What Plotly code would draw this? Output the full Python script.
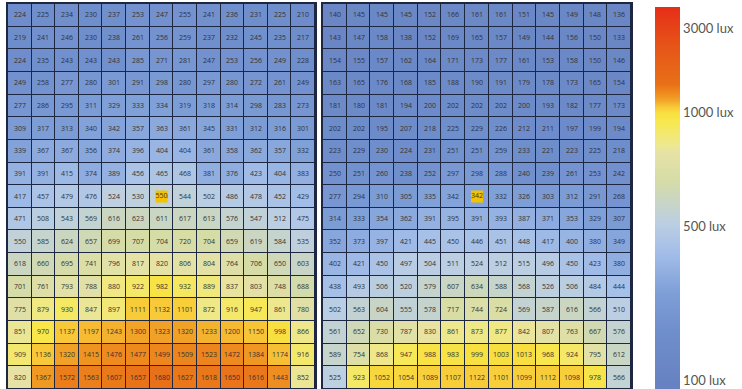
import numpy as np
import plotly.graph_objects as go

# measured illuminance, left room (rows top -> bottom)
left_lux = [
    [224, 225, 234, 230, 237, 253, 247, 255, 241, 236, 231, 225, 210],
    [219, 241, 246, 230, 238, 261, 256, 259, 237, 232, 245, 235, 217],
    [224, 235, 243, 243, 243, 285, 271, 281, 247, 253, 256, 249, 228],
    [249, 258, 277, 280, 301, 291, 298, 280, 297, 280, 272, 261, 249],
    [277, 286, 295, 311, 329, 333, 334, 319, 318, 314, 298, 283, 273],
    [309, 317, 313, 340, 342, 357, 363, 361, 345, 331, 312, 316, 301],
    [339, 367, 367, 356, 374, 396, 404, 404, 361, 358, 362, 357, 332],
    [391, 391, 415, 374, 389, 456, 465, 468, 381, 376, 423, 404, 383],
    [417, 457, 479, 476, 524, 530, 550, 544, 502, 486, 478, 452, 429],
    [471, 508, 543, 569, 616, 623, 611, 617, 613, 576, 547, 512, 475],
    [550, 585, 624, 657, 699, 707, 704, 720, 704, 659, 619, 584, 535],
    [618, 660, 695, 741, 796, 817, 820, 806, 804, 764, 706, 650, 603],
    [701, 761, 793, 788, 880, 922, 982, 932, 889, 837, 803, 748, 688],
    [775, 879, 930, 847, 897, 1111, 1132, 1101, 872, 916, 947, 861, 780],
    [851, 970, 1137, 1197, 1243, 1300, 1323, 1320, 1233, 1200, 1150, 998, 866],
    [909, 1136, 1320, 1415, 1476, 1477, 1499, 1509, 1523, 1472, 1384, 1174, 916],
    [820, 1367, 1572, 1563, 1607, 1657, 1680, 1627, 1618, 1650, 1616, 1443, 852],
]

# measured illuminance, right room
right_lux = [
    [140, 145, 145, 145, 152, 166, 161, 161, 151, 145, 149, 148, 136],
    [143, 147, 158, 138, 152, 169, 165, 157, 149, 144, 156, 150, 133],
    [154, 155, 157, 162, 164, 171, 173, 177, 161, 153, 158, 150, 146],
    [163, 165, 176, 168, 185, 188, 190, 191, 179, 178, 173, 165, 154],
    [181, 180, 181, 194, 200, 202, 202, 202, 200, 193, 182, 177, 173],
    [202, 202, 195, 207, 218, 225, 229, 226, 212, 211, 197, 199, 194],
    [223, 229, 230, 224, 231, 251, 251, 259, 233, 221, 223, 225, 218],
    [250, 251, 260, 238, 252, 297, 298, 288, 240, 239, 261, 253, 242],
    [277, 294, 310, 305, 335, 342, 342, 332, 326, 303, 312, 291, 268],
    [314, 333, 354, 362, 391, 395, 391, 393, 387, 371, 353, 329, 307],
    [352, 373, 397, 421, 445, 450, 446, 451, 448, 417, 400, 380, 349],
    [402, 421, 450, 497, 504, 511, 524, 512, 515, 496, 450, 423, 380],
    [438, 493, 506, 520, 579, 607, 634, 588, 568, 526, 506, 484, 444],
    [502, 563, 604, 555, 578, 717, 744, 724, 569, 587, 616, 566, 510],
    [561, 652, 730, 787, 830, 861, 873, 877, 842, 807, 763, 667, 576],
    [589, 754, 868, 947, 988, 983, 999, 1003, 1013, 968, 924, 795, 612],
    [525, 923, 1052, 1054, 1089, 1107, 1122, 1101, 1099, 1112, 1098, 978, 566],
]

# sensor cell (row, col) highlighted in each room
left_sensor = (8, 6)
right_sensor = (8, 6)

# non-linear lux scale of the colour bar
scale_lux = [100, 500, 1000, 3000, 3400]
scale_pos = [0.03, 0.43, 0.725, 0.945, 1.0]
tick_lux = [100, 500, 1000, 3000]
tick_text = ["100 lux", "500 lux", "1000 lux", "3000 lux"]

colorscale = [
    [0.0, "#6680c0"],
    [0.16, "#6f8ecc"],
    [0.26, "#7f9fd8"],
    [0.36, "#a2bde8"],
    [0.44, "#bccfe2"],
    [0.55, "#d6dca6"],
    [0.62, "#e6e2a6"],
    [0.645, "#eee88c"],
    [0.70, "#f8e850"],
    [0.725, "#f8e040"],
    [0.74, "#f8c838"],
    [0.758, "#f2a428"],
    [0.777, "#ee8a1e"],
    [0.80, "#e87018"],
    [0.90, "#e65418"],
    [1.0, "#e62e18"],
]

def to_pos(a):
    return np.interp(np.array(a, dtype=float), scale_lux, scale_pos)

grid = "#1d2742"
fig = go.Figure()

for i, (lux, sensor) in enumerate([(left_lux, left_sensor), (right_lux, right_sensor)]):
    xa = "x" if i == 0 else "x2"
    ya = "y" if i == 0 else "y2"
    fig.add_trace(go.Heatmap(
        z=to_pos(lux), text=lux, texttemplate="%{text}",
        textfont=dict(size=7, color="#333333", family="Open Sans"),
        colorscale=colorscale, zmin=0, zmax=1,
        xgap=1, ygap=1, xaxis=xa, yaxis=ya,
        showscale=(i == 0), hoverinfo="skip",
        colorbar=dict(
            tickvals=list(to_pos(tick_lux)), ticktext=tick_text,
            ticks="", outlinewidth=0, thickness=25,
            x=1.0385, xanchor="left", xpad=0,
            y=1 - 3 / 385, yanchor="top", len=1.0, ypad=0,
            ticklabeloverflow="allow",
            tickfont=dict(size=13, color="#555555", family="Lato"),
        ),
    ))
    r, c = sensor
    fig.add_trace(go.Scatter(
        x=[c], y=[r], mode="markers+text", text=[str(lux[r][c])],
        textposition="middle center",
        textfont=dict(size=7, color="#333333", family="Open Sans"),
        marker=dict(symbol="square", size=12, color="#f5c200"),
        xaxis=xa, yaxis=ya, showlegend=False, hoverinfo="skip",
    ))

axis_common = dict(showticklabels=False, showgrid=False, zeroline=False, ticks="",
                   showline=True, mirror=True, linewidth=2, linecolor=grid,
                   range=[-0.5, 12.5])
yaxis_common = dict(showticklabels=False, showgrid=False, zeroline=False, ticks="",
                    showline=True, mirror=True, linewidth=2, linecolor=grid,
                    range=[16.5, -0.5])

fig.update_layout(
    width=742, height=389,
    margin=dict(l=8, r=111, t=4, b=0, autoexpand=False),
    paper_bgcolor="white", plot_bgcolor=grid,
    xaxis=dict(domain=[0, 0.4928], **axis_common),
    xaxis2=dict(domain=[0.5056, 1], **axis_common),
    yaxis=dict(domain=[0, 1], anchor="x", **yaxis_common),
    yaxis2=dict(domain=[0, 1], anchor="x2", **yaxis_common),
    showlegend=False,
)

# drop the browser's default page margin so the figure sits at the window origin
fig.write_html("out.html", config={"displayModeBar": False},
               post_script="document.body.style.margin='0';")
